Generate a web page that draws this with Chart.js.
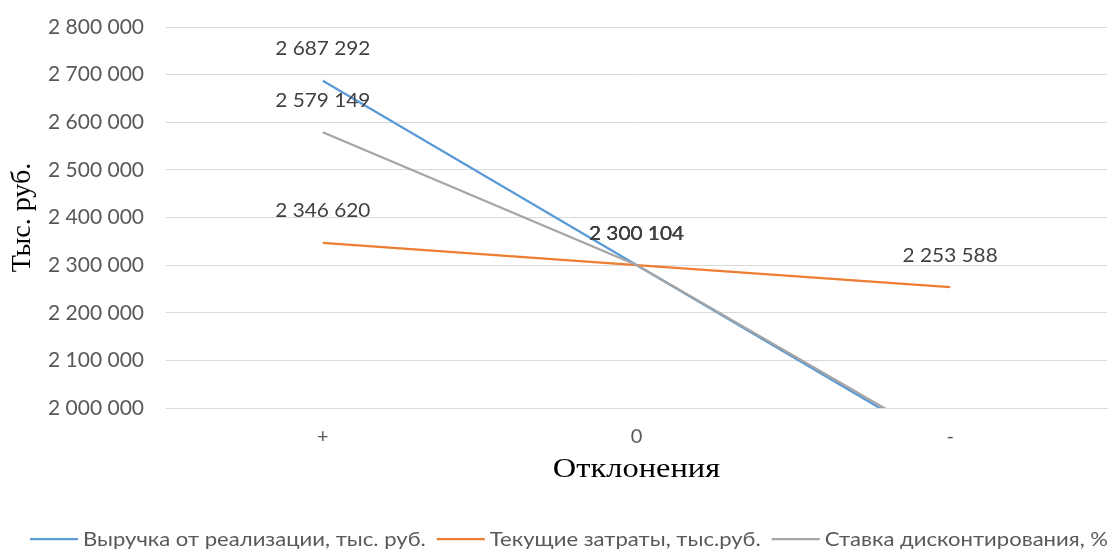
<!DOCTYPE html>
<html>
<head>
<meta charset="utf-8">
<script src="https://cdn.jsdelivr.net/npm/chart.js@4.4.1/dist/chart.umd.min.js"></script>
<style>
  html, body { margin: 0; padding: 0; background: #ffffff; }
  #wrap { width: 1109px; height: 553px; }
</style>
</head>
<body>
<div id="wrap"><canvas id="c" width="1109" height="553"></canvas></div>
<script>
// Deviation scenarios on the horizontal axis
const categories = ['+', '0', '-'];

// Series values, thousand rubles
const revenue = [2687292, 2300104, 1912916];
const currentCosts = [2346620, 2300104, 2253588];
const discountRate = [2579149, 2300104, 1920000];

const seriesNames = [
  'Выручка от реализации, тыс. руб.',
  'Текущие затраты, тыс.руб.',
  'Ставка дисконтирования, %'
];
const seriesColors = ['#5B9BD5', '#ED7D31', '#A5A5A5'];

// Value axis tick values
const yTickValues = [2000000, 2100000, 2200000, 2300000, 2400000, 2500000, 2600000, 2700000, 2800000];

const yTitle = 'Тыс. руб.';
const xTitle = 'Отклонения';

function fmt(n) {
  return String(n).replace(/\B(?=(\d{3})+(?!\d))/g, ' ');
}

// Value labels above each point that lies inside the value range
const pointLabels = {
  id: 'pointLabels',
  afterDatasetsDraw(chart) {
    const { ctx } = chart;
    const y = chart.scales.y;
    ctx.save();
    ctx.font = '20px Lato';
    ctx.fillStyle = '#404040';
    ctx.textAlign = 'center';
    ctx.textBaseline = 'middle';
    chart.data.datasets.forEach((ds, i) => {
      const meta = chart.getDatasetMeta(i);
      meta.data.forEach((pt, j) => {
        const v = ds.data[j];
        if (v < y.min || v > y.max) return;
        ctx.save();
        ctx.translate(pt.x, pt.y - 32);
        ctx.scale(1.04, 1);
        ctx.fillText(fmt(v), 0, 0);
        ctx.restore();
      });
    });
    ctx.restore();
  }
};

// Horizontal axis title, set in a slightly widened serif face
const xAxisTitle = {
  id: 'xAxisTitle',
  afterDraw(chart) {
    const { ctx, chartArea } = chart;
    ctx.save();
    ctx.font = '28px "Liberation Serif"';
    ctx.fillStyle = '#000000';
    ctx.textAlign = 'center';
    ctx.textBaseline = 'middle';
    ctx.translate((chartArea.left + chartArea.right) / 2, 470);
    ctx.scale(1.16, 1);
    ctx.fillText(xTitle, 0, 0);
    ctx.restore();
  }
};

// Legend row along the bottom edge, spread over the full width
const bottomLegend = {
  id: 'bottomLegend',
  afterDraw(chart) {
    const { ctx } = chart;
    ctx.save();
    ctx.font = '19px Lato';
    const lineLen = 48, gapText = 5, gapItem = 11;
    const left = 30, right = 1108;
    const widths = seriesNames.map(s => ctx.measureText(s).width);
    const fixed = seriesNames.length * (lineLen + gapText) + (seriesNames.length - 1) * gapItem;
    const sx = (right - left - fixed) / widths.reduce((a, b) => a + b, 0);
    let x = left;
    const yMid = 539;
    ctx.textBaseline = 'middle';
    ctx.textAlign = 'left';
    seriesNames.forEach((name, i) => {
      ctx.strokeStyle = seriesColors[i];
      ctx.lineWidth = 2.25;
      ctx.beginPath();
      ctx.moveTo(x, yMid);
      ctx.lineTo(x + lineLen, yMid);
      ctx.stroke();
      x += lineLen + gapText;
      ctx.save();
      ctx.translate(x, yMid + 1);
      ctx.scale(sx, 1);
      ctx.fillStyle = '#595959';
      ctx.fillText(name, 0, 0);
      ctx.restore();
      x += widths[i] * sx + gapItem;
    });
    ctx.restore();
  }
};

const seriesData = [revenue, currentCosts, discountRate];

new Chart(document.getElementById('c'), {
  type: 'line',
  data: {
    labels: categories,
    datasets: seriesData.map((d, i) => ({
      label: seriesNames[i],
      data: d,
      borderColor: seriesColors[i],
      backgroundColor: seriesColors[i],
      borderWidth: 2.25,
      pointRadius: 0,
      tension: 0,
      fill: false,
      order: 2 - i
    }))
  },
  options: {
    responsive: false,
    devicePixelRatio: 1,
    animation: false,
    layout: { padding: { top: 27, right: 2, bottom: 45, left: 0 } },
    plugins: {
      legend: { display: false },
      tooltip: { enabled: false }
    },
    scales: {
      x: {
        type: 'category',
        offset: true,
        grid: { display: false, drawTicks: false },
        border: { display: true, color: '#D9D9D9', width: 1 },
        ticks: { color: '#595959', font: { family: 'Lato', size: 20 }, padding: 17 },
        title: { display: false },
        afterFit(s) { s.height = 100; }
      },
      y: {
        min: 2000000,
        max: 2800000,
        afterBuildTicks(s) { s.ticks = yTickValues.map(v => ({ value: v })); },
        grid: { color: '#D9D9D9', lineWidth: 1, drawTicks: false },
        border: { display: false },
        ticks: {
          color: '#595959', font: { family: 'Lato', size: 21 }, padding: 22,
          callback: v => fmt(v)
        },
        title: {
          display: true, text: yTitle, color: '#000000',
          font: { family: 'Liberation Serif', size: 28 },
          padding: { top: 6, bottom: 0 }
        },
        afterFit(s) {
          s.width = 166;
          s.paddingTop = 0;
          s.paddingBottom = 0;
        }
      }
    }
  },
  plugins: [pointLabels, xAxisTitle, bottomLegend]
});
</script>
</body>
</html>
